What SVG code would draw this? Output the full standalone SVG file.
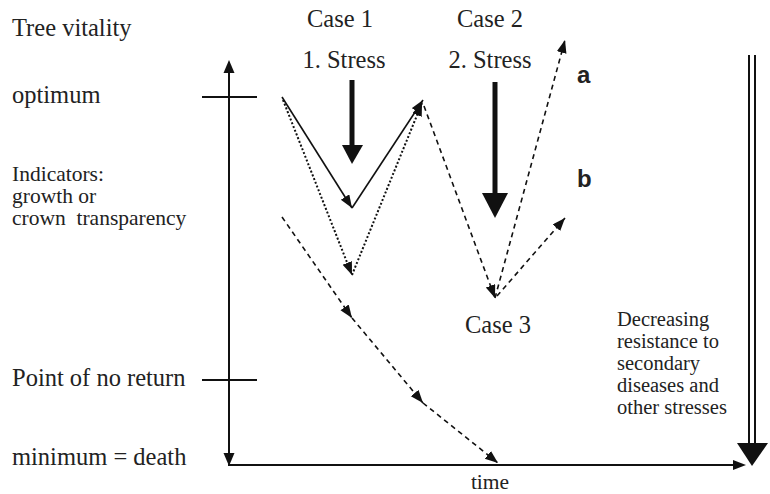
<svg xmlns="http://www.w3.org/2000/svg" width="770" height="494" viewBox="0 0 770 494">
<defs>
<marker id="ah" markerUnits="userSpaceOnUse" markerWidth="14" markerHeight="12" refX="13" refY="5" orient="auto"><path d="M0,0 L13,5 L0,10 Z" fill="#111"/></marker>
<style>
text{font-family:"Liberation Serif","Times New Roman",serif;font-size:24.5px;fill:#222}
.sm{font-size:21.5px}
.rt{font-size:20.5px}
.lbl{font-family:"Liberation Sans",Arial,sans-serif;font-weight:bold;font-size:24px}
.ax{stroke:#111;stroke-width:2;fill:none}
.solid{stroke:#111;stroke-width:1.6;fill:none}
.dot{stroke:#111;stroke-width:2;fill:none;stroke-dasharray:2 2}
.dash{stroke:#111;stroke-width:1.6;fill:none;stroke-dasharray:5 4}
</style>
</defs>
<rect width="770" height="494" fill="#fff"/>
<g id="labels">
<text x="12" y="36">Tree vitality</text>
<text x="12" y="103">optimum</text>
<text class="sm" x="12" y="181">Indicators:</text>
<text class="sm" x="12" y="203">growth or</text>
<text class="sm" x="12" y="225" xml:space="preserve">crown  transparency</text>
<text x="12" y="386">Point of no return</text>
<text x="12" y="465">minimum = death</text>
<text x="340" y="27" text-anchor="middle">Case 1</text>
<text x="490" y="27" text-anchor="middle">Case 2</text>
<text x="344" y="68" text-anchor="middle">1. Stress</text>
<text x="490" y="68" text-anchor="middle">2. Stress</text>
<text x="465" y="333">Case 3</text>
<text class="sm" x="490" y="489" text-anchor="middle">time</text>
<text class="lbl" x="577" y="83">a</text>
<text class="lbl" x="577" y="187">b</text>
<text class="rt" x="617" y="326">Decreasing</text>
<text class="rt" x="617" y="348">resistance to</text>
<text class="rt" x="617" y="370">secondary</text>
<text class="rt" x="617" y="392">diseases and</text>
<text class="rt" x="617" y="414">other stresses</text>
</g>
<g id="axes">
<line class="ax" x1="229" y1="72" x2="229" y2="454"/>
<path d="M229,60 L223.5,73 L234.5,73 Z" fill="#111"/>
<path d="M229,466 L223.5,453 L234.5,453 Z" fill="#111"/>
<line class="ax" x1="228" y1="465" x2="735" y2="465"/>
<path d="M746,465 L733,460 L733,470 Z" fill="#111"/>
<line class="ax" x1="202" y1="97" x2="257" y2="97"/>
<line class="ax" x1="202" y1="380" x2="257" y2="380"/>
</g>
<g id="stress1">
<line x1="352" y1="80" x2="352" y2="147" stroke="#111" stroke-width="5"/>
<path d="M342,145 L363,145 L352,164 Z" fill="#111"/>
</g>
<g id="stress2">
<line x1="495" y1="82" x2="495" y2="195" stroke="#111" stroke-width="5"/>
<path d="M482,193 L508,193 L495,218 Z" fill="#111"/>
</g>
<g id="decreasing-resistance">
<line x1="749" y1="55" x2="749" y2="445" stroke="#111" stroke-width="2"/>
<line x1="755" y1="55" x2="755" y2="445" stroke="#111" stroke-width="2"/>
<path d="M737,443 L768,443 L752,466 Z" fill="#111"/>
</g>
<g id="connectors">
<polyline class="solid" points="282,97 352,208" marker-end="url(#ah)"/>
<polyline class="solid" points="352,208 423,100" marker-end="url(#ah)"/>
<polyline class="dot" points="283,100 352,275" marker-end="url(#ah)"/>
<polyline class="dot" points="352,275 422,103" marker-end="url(#ah)"/>
<polyline class="dash" points="424,106 495,298" marker-end="url(#ah)"/>
<polyline class="dash" points="495,298 565,40" marker-end="url(#ah)"/>
<polyline class="dash" points="497,296 565,218" marker-end="url(#ah)"/>
<polyline class="dash" points="282,217 352,318" marker-end="url(#ah)"/>
<polyline class="dash" points="352,318 423,403" marker-end="url(#ah)"/>
<polyline class="dash" points="423,403 498,463" marker-end="url(#ah)"/>
</g>
</svg>
